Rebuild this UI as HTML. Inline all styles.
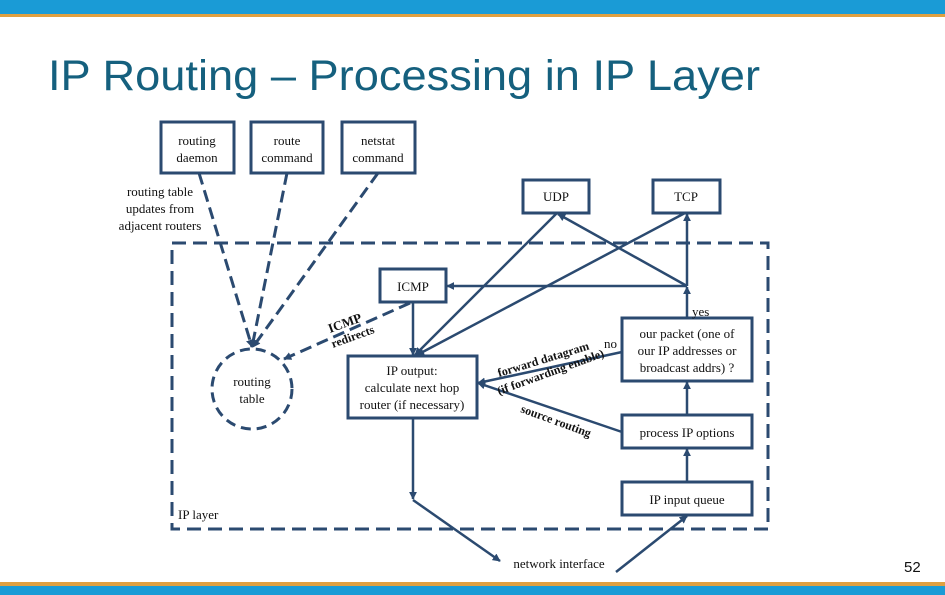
<!DOCTYPE html>
<html><head><meta charset="utf-8"><style>
html,body{margin:0;padding:0;background:#fff}
svg{display:block}
text{font-family:"Liberation Serif",serif;font-size:13px;fill:#111}
</style></head><body>
<svg width="945" height="595" viewBox="0 0 945 595" xmlns="http://www.w3.org/2000/svg">
<defs>
<marker id="a" viewBox="0 0 10 10" refX="9" refY="5" markerWidth="8" markerHeight="8" markerUnits="userSpaceOnUse" orient="auto"><path d="M0,0L10,5L0,10z" fill="#2b4a70"/></marker>
</defs>
<rect x="0" y="0" width="945" height="14" fill="#1a9bd6"/>
<rect x="0" y="14" width="945" height="3" fill="#e0a040"/>
<rect x="0" y="582" width="945" height="4" fill="#e0a040"/>
<rect x="0" y="586" width="945" height="9" fill="#1a9bd6"/>
<text x="48" y="90" style="font-family:'Liberation Sans',sans-serif;font-size:43px;fill:#15607e" textLength="712" lengthAdjust="spacingAndGlyphs">IP Routing – Processing in IP Layer</text>

<g fill="none" stroke="#2b4a70" stroke-width="3">
<rect x="172" y="243" width="596" height="286" stroke-dasharray="14,7"/>
<rect x="161" y="122" width="73" height="51"/>
<rect x="251" y="122" width="72" height="51"/>
<rect x="342" y="122" width="73" height="51"/>
<rect x="523" y="180" width="66" height="33"/>
<rect x="653" y="180" width="67" height="33"/>
<rect x="380" y="269" width="66" height="33"/>
<rect x="348" y="356" width="129" height="62"/>
<rect x="622" y="318" width="130" height="63"/>
<rect x="622" y="415" width="130" height="33"/>
<rect x="622" y="482" width="130" height="33"/>
<circle cx="252" cy="389" r="40" stroke-dasharray="10,6"/>
</g>
<g fill="none" stroke="#2b4a70" stroke-width="3" stroke-dasharray="12,6">
<line x1="199" y1="173" x2="252" y2="347" marker-end="url(#a)"/>
<line x1="287" y1="173" x2="252" y2="347" marker-end="url(#a)"/>
<line x1="378" y1="173" x2="253" y2="347" marker-end="url(#a)"/>
<line x1="410" y1="303" x2="284" y2="359" marker-end="url(#a)"/>
</g>
<g fill="none" stroke="#2b4a70" stroke-width="2.5">
<line x1="687" y1="318" x2="687" y2="287" marker-end="url(#a)"/>
<line x1="687" y1="286" x2="687" y2="214" marker-end="url(#a)"/>
<line x1="687" y1="286" x2="447" y2="286" marker-end="url(#a)"/>
<line x1="687" y1="286" x2="558" y2="214" marker-end="url(#a)"/>
<line x1="557" y1="213" x2="415" y2="355" marker-end="url(#a)"/>
<line x1="685" y1="213" x2="417" y2="355" marker-end="url(#a)"/>
<line x1="413" y1="302" x2="413" y2="355" marker-end="url(#a)"/>
<line x1="687" y1="415" x2="687" y2="382" marker-end="url(#a)"/>
<line x1="687" y1="482" x2="687" y2="449" marker-end="url(#a)"/>
<line x1="622" y1="352" x2="478" y2="383" marker-end="url(#a)"/>
<line x1="622" y1="432" x2="478" y2="383" marker-end="url(#a)"/>
<line x1="413" y1="418" x2="413" y2="499" marker-end="url(#a)"/>
<line x1="413" y1="500" x2="500" y2="561" marker-end="url(#a)"/>
<line x1="616" y1="572" x2="687" y2="516" marker-end="url(#a)"/>
</g>

<g text-anchor="middle">
<text x="197" y="145">routing</text><text x="197" y="162">daemon</text>
<text x="287" y="145">route</text><text x="287" y="162">command</text>
<text x="378" y="145">netstat</text><text x="378" y="162">command</text>
<text x="160" y="196">routing table</text>
<text x="160" y="213">updates from</text>
<text x="160" y="230">adjacent routers</text>
<text x="556" y="201">UDP</text>
<text x="686" y="201">TCP</text>
<text x="413" y="291">ICMP</text>
<text x="252" y="386">routing</text><text x="252" y="403">table</text>
<text x="412" y="375">IP output:</text>
<text x="412" y="392">calculate next hop</text>
<text x="412" y="409">router (if necessary)</text>
<text x="687" y="338">our packet (one of</text>
<text x="687" y="355">our IP addresses or</text>
<text x="687" y="372">broadcast addrs) ?</text>
<text x="687" y="437">process IP options</text>
<text x="687" y="504">IP input queue</text>
<text x="559" y="568">network interface</text>
</g>
<text x="692" y="316">yes</text>
<text x="604" y="348">no</text>
<text x="178" y="519">IP layer</text>
<text x="904" y="572" style="font-family:'Liberation Sans',sans-serif;font-size:15px">52</text>
<g style="font-weight:bold">
<text x="330" y="333" transform="rotate(-20 330 333)">ICMP</text>
<text x="333" y="348" transform="rotate(-20 333 348)" style="font-size:12px">redirects</text>
<text x="499" y="377" transform="rotate(-17 499 377)" style="font-size:12px">forward datagram</text>
<text x="499" y="395" transform="rotate(-20 499 395)" style="font-size:12px">(if forwarding enable)</text>
<text x="520" y="412" transform="rotate(20 520 412)" style="font-size:12px">source routing</text>
</g>
</svg>
</body></html>
